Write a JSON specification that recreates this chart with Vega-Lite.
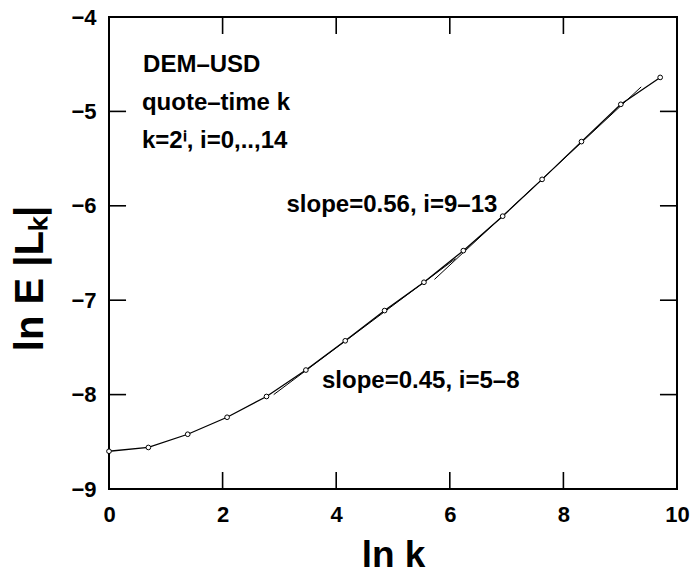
{
  "$schema": "https://vega.github.io/schema/vega-lite/v6.json",
  "autosize": "none",
  "width": 568,
  "height": 472,
  "padding": {"left": 109, "top": 17, "right": 16, "bottom": 85},
  "background": "white",
  "config": {
    "view": {"stroke": "black", "strokeWidth": 2},
    "font": "Liberation Sans",
    "axis": {
      "grid": false,
      "domain": false,
      "ticks": false,
      "labelFlush": false,
      "labelFont": "Liberation Sans",
      "labelFontWeight": "bold",
      "labelFontSize": 22,
      "labelColor": "black",
      "titleFont": "Liberation Sans",
      "titleFontWeight": "bold",
      "titleFontSize": 40,
      "titleColor": "black"
    }
  },
  "datasets": {
    "pts": [
      {"lnk": 0.0, "lnE": -8.60},
      {"lnk": 0.693, "lnE": -8.56},
      {"lnk": 1.386, "lnE": -8.42},
      {"lnk": 2.079, "lnE": -8.24},
      {"lnk": 2.773, "lnE": -8.02},
      {"lnk": 3.466, "lnE": -7.74},
      {"lnk": 4.159, "lnE": -7.43},
      {"lnk": 4.852, "lnE": -7.11},
      {"lnk": 5.545, "lnE": -6.81},
      {"lnk": 6.238, "lnE": -6.475},
      {"lnk": 6.931, "lnE": -6.11},
      {"lnk": 7.625, "lnE": -5.72},
      {"lnk": 8.318, "lnE": -5.32},
      {"lnk": 9.011, "lnE": -4.925},
      {"lnk": 9.704, "lnE": -4.64}
    ],
    "fits": [
      {"fit": "0.45", "lnk": 2.90, "lnE": -8.0},
      {"fit": "0.45", "lnk": 6.10, "lnE": -6.56},
      {"fit": "0.56", "lnk": 5.73, "lnE": -6.78},
      {"fit": "0.56", "lnk": 9.37, "lnE": -4.74}
    ],
    "notes": [
      {"lnk": 0.60, "lnE": -4.586, "label": "DEM–USD"},
      {"lnk": 0.58, "lnE": -4.99, "label": "quote–time k"},
      {"lnk": 0.58, "lnE": -5.39, "label": "k=2ⁱ, i=0,..,14"},
      {"lnk": 3.125, "lnE": -6.07, "label": "slope=0.56, i=9–13"},
      {"lnk": 3.75, "lnE": -7.93, "label": "slope=0.45, i=5–8"}
    ],
    "xticks": [
      {"tx": 0, "ty1": -9, "ty2": -8.82}, {"tx": 2, "ty1": -9, "ty2": -8.82}, {"tx": 4, "ty1": -9, "ty2": -8.82},
      {"tx": 6, "ty1": -9, "ty2": -8.82}, {"tx": 8, "ty1": -9, "ty2": -8.82}, {"tx": 10, "ty1": -9, "ty2": -8.82},
      {"tx": 0, "ty1": -4, "ty2": -4.18}, {"tx": 2, "ty1": -4, "ty2": -4.18}, {"tx": 4, "ty1": -4, "ty2": -4.18},
      {"tx": 6, "ty1": -4, "ty2": -4.18}, {"tx": 8, "ty1": -4, "ty2": -4.18}, {"tx": 10, "ty1": -4, "ty2": -4.18}
    ],
    "yticks": [
      {"ty": -9, "tx1": 0, "tx2": 0.3}, {"ty": -8, "tx1": 0, "tx2": 0.3}, {"ty": -7, "tx1": 0, "tx2": 0.3},
      {"ty": -6, "tx1": 0, "tx2": 0.3}, {"ty": -5, "tx1": 0, "tx2": 0.3}, {"ty": -4, "tx1": 0, "tx2": 0.3},
      {"ty": -9, "tx1": 10, "tx2": 9.7}, {"ty": -8, "tx1": 10, "tx2": 9.7}, {"ty": -7, "tx1": 10, "tx2": 9.7},
      {"ty": -6, "tx1": 10, "tx2": 9.7}, {"ty": -5, "tx1": 10, "tx2": 9.7}, {"ty": -4, "tx1": 10, "tx2": 9.7}
    ]
  },
  "layer": [
    {
      "data": {"name": "fits"},
      "mark": {"type": "line", "color": "black", "strokeWidth": 1},
      "encoding": {
        "x": {"field": "lnk", "type": "quantitative", "scale": {"domain": [0, 10], "nice": false},
              "axis": {"orient": "bottom", "values": [0, 2, 4, 6, 8, 10], "format": "d", "labelPadding": 15, "title": "ln k", "titleFontSize": 37, "titleY": 77, "titleBaseline": "alphabetic"}},
        "y": {"field": "lnE", "type": "quantitative", "scale": {"domain": [-9, -4], "nice": false, "zero": false},
              "axis": {"orient": "left", "values": [-9, -8, -7, -6, -5, -4], "format": "d", "labelPadding": 13, "title": "ln E |Lₖ|", "titleX": -67, "titleY": 261, "titleAngle": -90, "titleBaseline": "alphabetic", "titleAlign": "center"}},
        "detail": {"field": "fit"}
      }
    },
    {
      "data": {"name": "xticks"},
      "mark": {"type": "line", "stroke": "black", "strokeWidth": 1.6, "opacity": 1},
      "transform": [{"fold": ["ty1", "ty2"], "as": ["end", "tyv"]}],
      "encoding": {
        "x": {"field": "tx", "type": "quantitative"},
        "y": {"field": "tyv", "type": "quantitative"},
        "detail": [{"field": "tx"}, {"field": "ty1"}]
      }
    },
    {
      "data": {"name": "yticks"},
      "mark": {"type": "line", "stroke": "black", "strokeWidth": 1.6, "opacity": 1},
      "transform": [{"fold": ["tx1", "tx2"], "as": ["end", "txv"]}],
      "encoding": {
        "y": {"field": "ty", "type": "quantitative"},
        "x": {"field": "txv", "type": "quantitative"},
        "detail": [{"field": "ty"}, {"field": "tx1"}]
      }
    },
    {
      "data": {"name": "pts"},
      "mark": {"type": "line", "color": "black", "strokeWidth": 1.3},
      "encoding": {
        "x": {"field": "lnk", "type": "quantitative"},
        "y": {"field": "lnE", "type": "quantitative"}
      }
    },
    {
      "data": {"name": "pts"},
      "mark": {"type": "point", "shape": "circle", "filled": false, "fill": "white", "fillOpacity": 1, "stroke": "black", "strokeWidth": 1, "size": 22, "opacity": 1},
      "encoding": {
        "x": {"field": "lnk", "type": "quantitative"},
        "y": {"field": "lnE", "type": "quantitative"}
      }
    },
    {
      "data": {"name": "notes"},
      "mark": {"type": "text", "align": "left", "baseline": "alphabetic", "font": "Liberation Sans", "fontWeight": "bold", "fontSize": 24, "color": "black"},
      "encoding": {
        "x": {"field": "lnk", "type": "quantitative"},
        "y": {"field": "lnE", "type": "quantitative"},
        "text": {"field": "label"}
      }
    }
  ]
}
